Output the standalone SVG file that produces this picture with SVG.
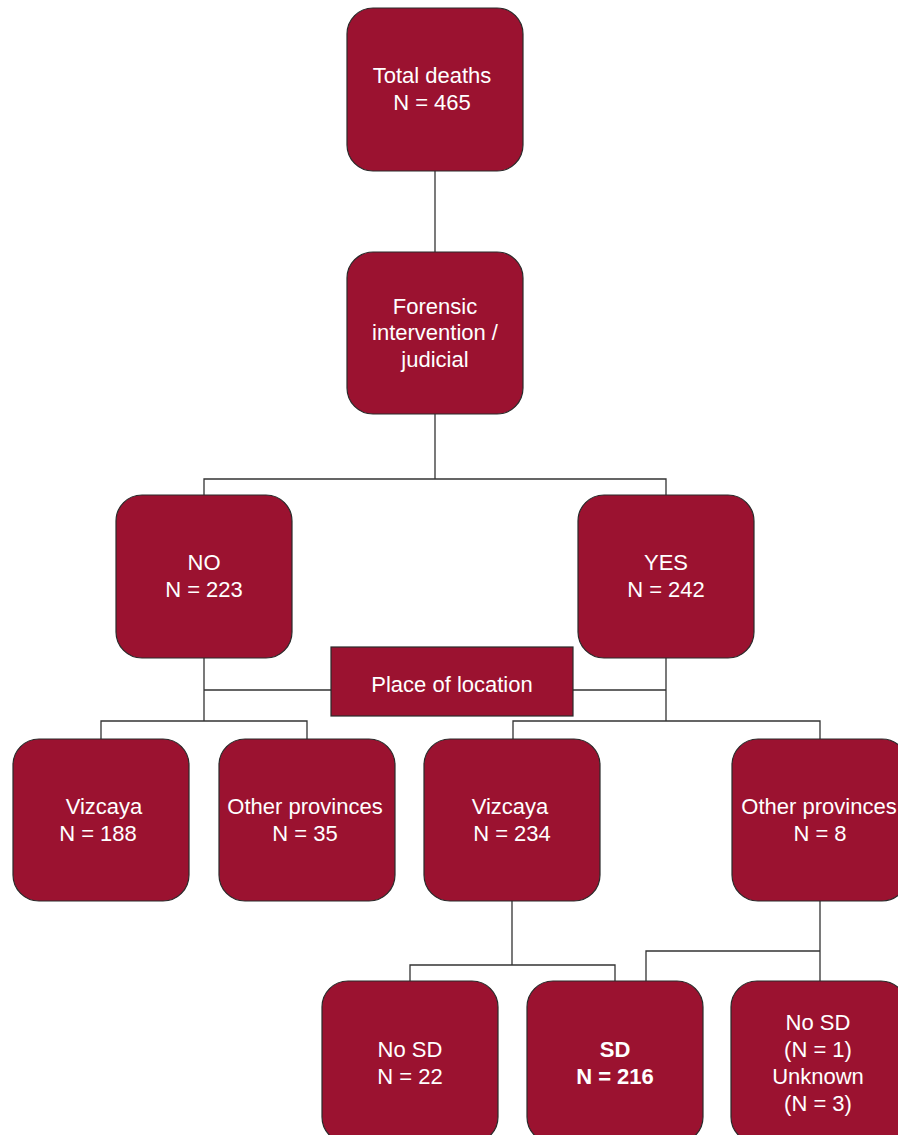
<svg xmlns="http://www.w3.org/2000/svg" width="898" height="1135" viewBox="0 0 898 1135">
<style>
.box{fill:#9b1230;stroke:#2a2a2a;stroke-width:1.2}
.t{font-family:"Liberation Sans",Arial,sans-serif;font-size:22px;fill:#fff;text-anchor:middle}
.b{font-weight:bold}
.c{fill:none;stroke:#333;stroke-width:1.3}
</style>
<rect width="898" height="1135" fill="#fff"/>
<g id="connectors">
<path class="c" d="M435 171V252"/>
<path class="c" d="M435 414V479H204V495M435 479H666V495"/>
<path class="c" d="M204 658V721M204 690H331M573 690H666M666 658V721"/>
<path class="c" d="M101 739V721H307V739"/>
<path class="c" d="M513 739V721H820V739"/>
<path class="c" d="M512 901V965H410V981M512 965H615V981"/>
<path class="c" d="M820 901V981M820 951H646V981"/>
</g>
<g id="total"><rect class="box" x="347" y="8" width="176" height="163" rx="26"/>
<text class="t" x="432" y="83">Total deaths</text><text class="t" x="432" y="110">N = 465</text></g>
<g id="forensic"><rect class="box" x="347" y="252" width="176" height="162" rx="26"/>
<text class="t" x="435" y="314">Forensic</text><text class="t" x="435" y="340">intervention /</text><text class="t" x="435" y="367">judicial</text></g>
<g id="no"><rect class="box" x="116" y="495" width="176" height="163" rx="26"/>
<text class="t" x="204" y="570">NO</text><text class="t" x="204" y="597">N = 223</text></g>
<g id="yes"><rect class="box" x="578" y="495" width="176" height="163" rx="26"/>
<text class="t" x="666" y="570">YES</text><text class="t" x="666" y="597">N = 242</text></g>
<g id="place"><rect class="box" x="331" y="647" width="242" height="69"/>
<text class="t" x="452" y="692">Place of location</text></g>
<g id="vizcaya-no"><rect class="box" x="13" y="739" width="176" height="162" rx="26"/>
<text class="t" x="104" y="814">Vizcaya</text><text class="t" x="98" y="841">N = 188</text></g>
<g id="other-no"><rect class="box" x="219" y="739" width="176" height="162" rx="26"/>
<text class="t" x="305" y="814">Other provinces</text><text class="t" x="305" y="841">N = 35</text></g>
<g id="vizcaya-yes"><rect class="box" x="424" y="739" width="176" height="162" rx="26"/>
<text class="t" x="510" y="814">Vizcaya</text><text class="t" x="512" y="841">N = 234</text></g>
<g id="other-yes"><rect class="box" x="732" y="739" width="176" height="162" rx="26"/>
<text class="t" x="819" y="814">Other provinces</text><text class="t" x="820" y="841">N = 8</text></g>
<g id="nosd"><rect class="box" x="322" y="981" width="176" height="162" rx="26"/>
<text class="t" x="410" y="1057">No SD</text><text class="t" x="410" y="1084">N = 22</text></g>
<g id="sd"><rect class="box" x="527" y="981" width="176" height="162" rx="26"/>
<text class="t b" x="615" y="1057">SD</text><text class="t b" x="615" y="1084">N = 216</text></g>
<g id="nosd-unknown"><rect class="box" x="731" y="981" width="176" height="162" rx="26"/>
<text class="t" x="818" y="1030">No SD</text><text class="t" x="818" y="1057">(N = 1)</text><text class="t" x="818" y="1084">Unknown</text><text class="t" x="818" y="1111">(N = 3)</text></g>
</svg>
